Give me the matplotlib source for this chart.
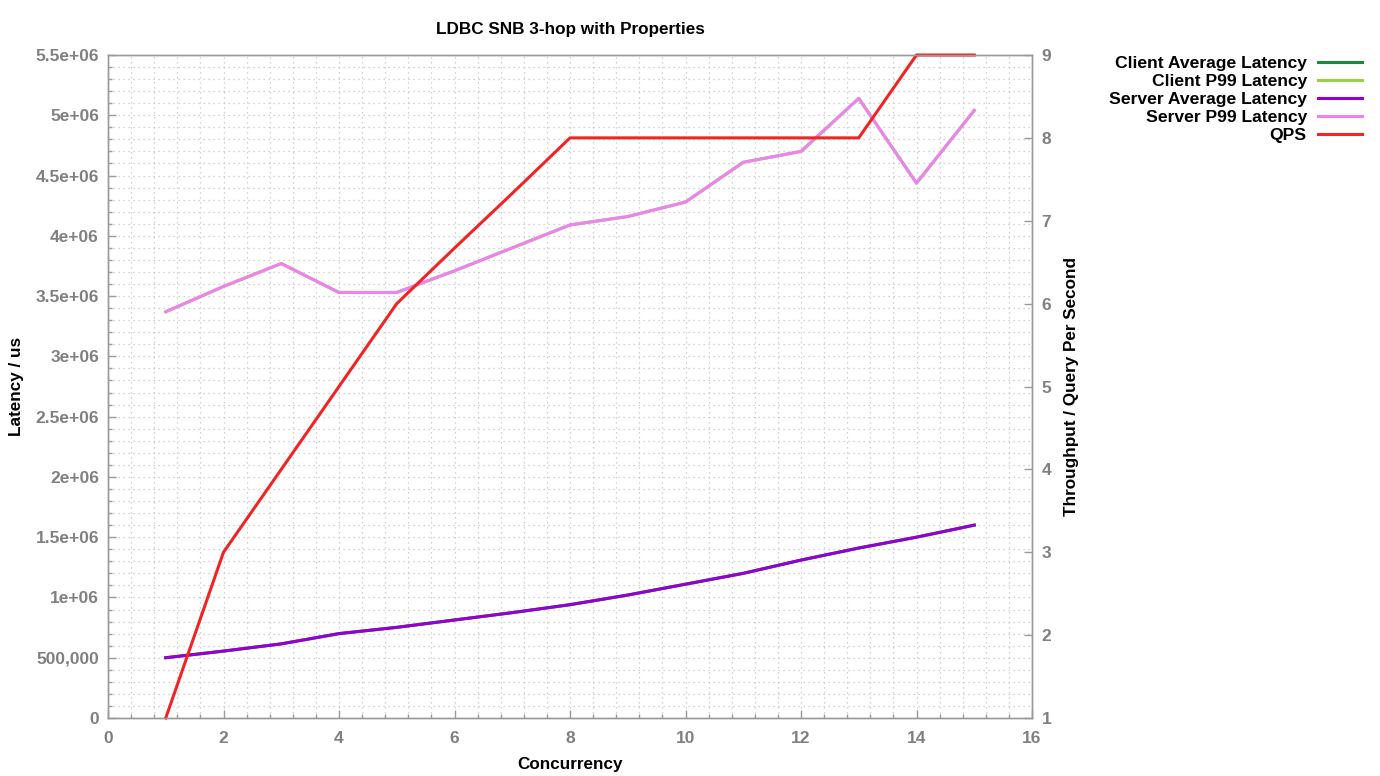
import matplotlib
matplotlib.use("Agg")
import matplotlib.pyplot as plt
from matplotlib.ticker import MultipleLocator

plt.rcParams['font.family'] = ['Liberation Sans', 'DejaVu Sans']
plt.rcParams['font.weight'] = 'bold'

# data
concurrency = [1, 2, 3, 4, 5, 6, 7, 8, 9, 10, 11, 12, 13, 14, 15]
server_avg = [500000, 555000, 615000, 700000, 752000, 813000, 874000, 940000,
              1020000, 1110000, 1200000, 1310000, 1410000, 1500000, 1600000]
server_p99 = [3370000, 3580000, 3770000, 3530000, 3530000, 3710000, 3900000, 4090000,
              4160000, 4280000, 4610000, 4700000, 5140000, 4437000, 5040000]
# client curves sit exactly under the server curves in the picture
client_avg = list(server_avg)
client_p99 = list(server_p99)
qps = [1, 3, 4, 5, 6, 6.67, 7.33, 8, 8, 8, 8, 8, 8, 9, 9]

y_ticks = [0, 500000, 1000000, 1500000, 2000000, 2500000, 3000000, 3500000,
           4000000, 4500000, 5000000, 5500000]
y_labels = ['0', '500,000', '1e+06', '1.5e+06', '2e+06', '2.5e+06', '3e+06',
            '3.5e+06', '4e+06', '4.5e+06', '5e+06', '5.5e+06']

grey = '#808080'
border = '#9a9a9a'
fs = 12.3

fig = plt.figure(figsize=(13.8, 7.76), dpi=100)
ax = fig.add_axes([108/1380, 1-718/776, (1032-108)/1380, (718-55)/776])
ax2 = ax.twinx()

lw = 2.2
l1, = ax.plot(concurrency, client_avg, color='#1b8a3a', lw=lw, label='Client Average Latency')
l2, = ax.plot(concurrency, client_p99, color='#98d04a', lw=lw, label='Client P99 Latency')
l3, = ax.plot(concurrency, server_avg, color='#9400d3', lw=lw, label='Server Average Latency')
l4, = ax.plot(concurrency, server_p99, color='#ee82ee', lw=lw, label='Server P99 Latency')
l5, = ax2.plot(concurrency, qps, color='#f02424', lw=lw, label='QPS', clip_on=False)

ax.set_xlim(0, 16)
ax.set_ylim(0, 5500000)
ax2.set_ylim(1, 9)

ax.xaxis.set_major_locator(MultipleLocator(2))
ax.xaxis.set_minor_locator(MultipleLocator(0.4))
ax.set_yticks(y_ticks)
ax.set_yticklabels(y_labels)
ax.yaxis.set_minor_locator(MultipleLocator(100000))
ax2.yaxis.set_major_locator(MultipleLocator(1))

ax.grid(True, which='both', color='#c4c4c4', linestyle=(0, (1, 3)), linewidth=0.9)

for a in (ax, ax2):
    for s in a.spines.values():
        s.set_color(border)
        s.set_linewidth(1.0)

ax.tick_params(which='major', direction='in', length=6, width=1, color=border,
               labelcolor=grey, labelsize=12.5, pad=6.5, top=False, right=False)
ax.tick_params(axis='x', which='major', pad=9.5)
ax.tick_params(which='minor', direction='in', length=3, width=1, color=border,
               top=False, right=False)
ax2.tick_params(which='major', direction='in', length=6, width=1, color=border,
                labelcolor=grey, labelsize=12.5, pad=7)
for lab in ax.get_xticklabels() + ax.get_yticklabels() + ax2.get_yticklabels():
    lab.set_fontweight('bold')

ax.set_title('LDBC SNB 3-hop with Properties', fontsize=fs, fontweight='bold', pad=15)
ax.set_xlabel('Concurrency', fontsize=fs, fontweight='bold', labelpad=8)
ax.set_ylabel('Latency / us', fontsize=fs, fontweight='bold', labelpad=8)
ax2.set_ylabel('Throughput / Query Per Second', fontsize=fs, fontweight='bold', labelpad=9)

fig.legend(handles=[l1, l2, l3, l4, l5], loc='upper right',
           bbox_to_anchor=(1362/1380, 1-56/776), frameon=False, markerfirst=False,
           prop={'size': 12.6, 'weight': 'bold'}, handlelength=2.5, handletextpad=0.65,
           labelspacing=0.16, borderpad=0, borderaxespad=0)

fig.savefig('out.png', dpi=100)
